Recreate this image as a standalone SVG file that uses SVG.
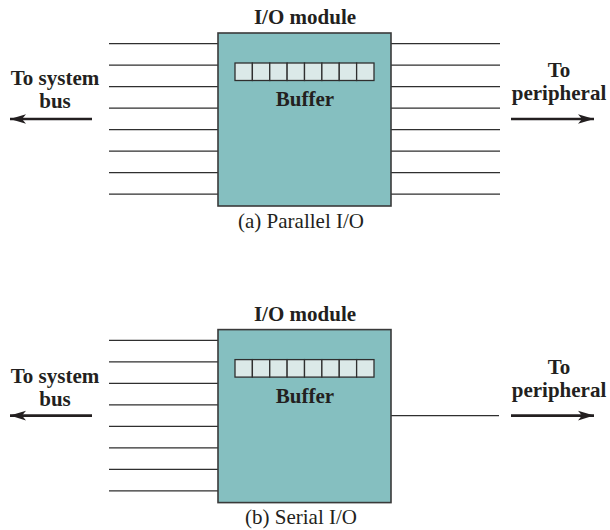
<svg xmlns="http://www.w3.org/2000/svg" width="610" height="530" viewBox="0 0 610 530">
<defs>
<style>
text{font-family:"Liberation Serif","Times New Roman",serif;font-size:21px;fill:#231f20;}
.b{font-weight:bold;}
.m{text-anchor:middle;}
.box{fill:#85bfc0;stroke:#3a3a3a;stroke-width:1.6;}
.cell{fill:#dbe9e8;stroke:#2f2f2f;stroke-width:1.3;}
.ln{stroke:#2f2f2f;stroke-width:1.3;fill:none;}
.arr{stroke:#231f20;stroke-width:2.6;fill:none;marker-end:url(#ah);}
</style>
<marker id="ah" markerUnits="userSpaceOnUse" markerWidth="18" markerHeight="12" refX="16" refY="6" orient="auto">
<path d="M0,1.2 L16,6 L0,10.8 L4,6 Z" fill="#231f20"/>
</marker>
<g id="buf">
<rect class="cell" x="0" y="0" width="17.375" height="17.5"/>
<rect class="cell" x="17.375" y="0" width="17.375" height="17.5"/>
<rect class="cell" x="34.75" y="0" width="17.375" height="17.5"/>
<rect class="cell" x="52.125" y="0" width="17.375" height="17.5"/>
<rect class="cell" x="69.5" y="0" width="17.375" height="17.5"/>
<rect class="cell" x="86.875" y="0" width="17.375" height="17.5"/>
<rect class="cell" x="104.25" y="0" width="17.375" height="17.5"/>
<rect class="cell" x="121.625" y="0" width="17.375" height="17.5"/>
</g>
</defs>
<rect width="610" height="530" fill="#ffffff"/>

<!-- (a) Parallel I/O -->
<g id="connectors-a">
<path class="ln" d="M109,43.7H218M109,65.2H218M109,86.7H218M109,108.2H218M109,129.7H218M109,151.2H218M109,172.7H218M109,194.2H218"/>
<path class="ln" d="M391,43.7H500M391,65.2H500M391,86.7H500M391,108.2H500M391,129.7H500M391,151.2H500M391,172.7H500M391,194.2H500"/>
<line class="arr" x1="92" y1="119" x2="10" y2="119"/>
<line class="arr" x1="511" y1="119" x2="594" y2="119"/>
</g>
<g id="module-a">
<text class="b m" x="305" y="24">I/O module</text>
<rect class="box" x="218" y="33" width="173" height="173"/>
<use href="#buf" x="235" y="63"/>
<text class="b m" x="305" y="106">Buffer</text>
</g>
<g id="sysbus-a">
<text class="b m" x="55" y="85">To system</text>
<text class="b m" x="55" y="108">bus</text>
</g>
<g id="periph-a">
<text class="b m" x="559" y="76.5">To</text>
<text class="b m" x="559" y="99.5">peripheral</text>
</g>
<text class="m" x="301" y="228">(a) Parallel I/O</text>

<!-- (b) Serial I/O -->
<g id="connectors-b">
<path class="ln" d="M109,340.3H218M109,361.8H218M109,383.3H218M109,404.8H218M109,426.3H218M109,447.8H218M109,469.3H218M109,490.8H218"/>
<path class="ln" d="M391,415.6H499"/>
<line class="arr" x1="92" y1="415.6" x2="10" y2="415.6"/>
<line class="arr" x1="511" y1="415.6" x2="594" y2="415.6"/>
</g>
<g id="module-b">
<text class="b m" x="305" y="320.6">I/O module</text>
<rect class="box" x="218" y="329.6" width="173" height="173"/>
<use href="#buf" x="235" y="359.6"/>
<text class="b m" x="305" y="402.6">Buffer</text>
</g>
<g id="sysbus-b">
<text class="b m" x="55" y="382.5">To system</text>
<text class="b m" x="55" y="405.5">bus</text>
</g>
<g id="periph-b">
<text class="b m" x="559" y="373.5">To</text>
<text class="b m" x="559" y="396.5">peripheral</text>
</g>
<text class="m" x="301" y="524">(b) Serial I/O</text>
</svg>
